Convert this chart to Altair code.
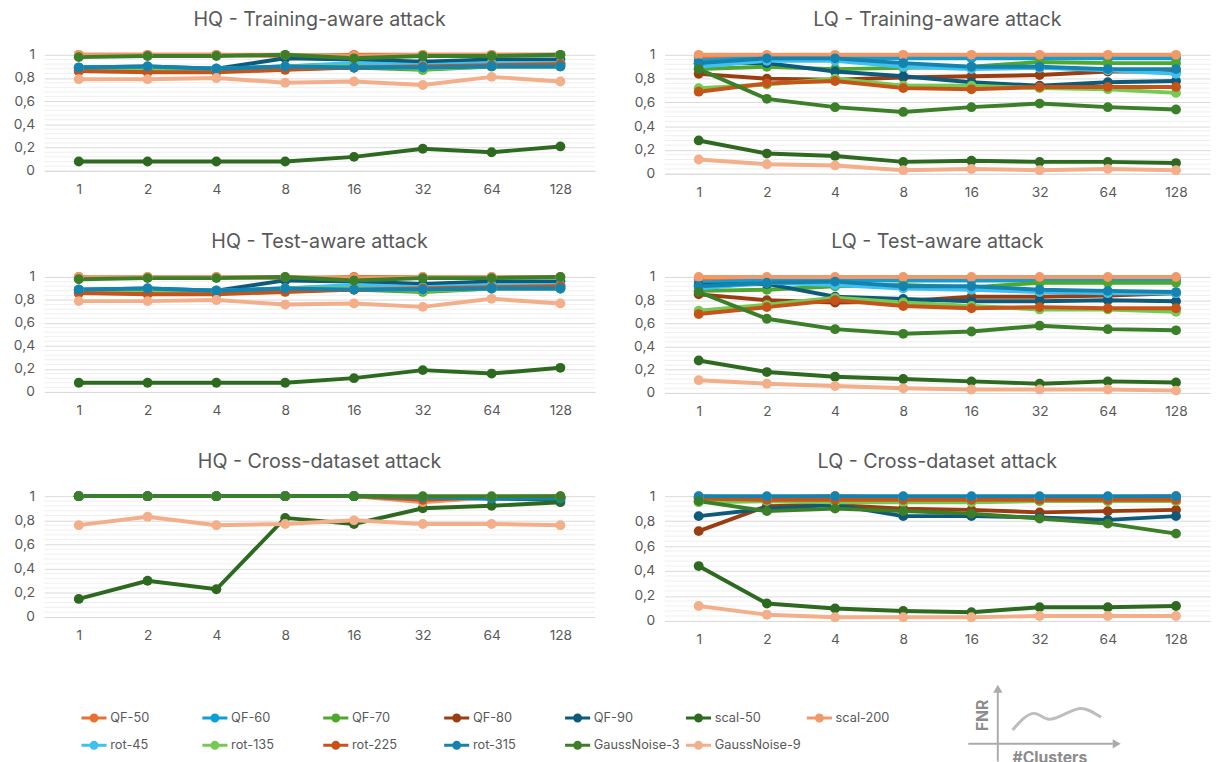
import altair as alt
import pandas as pd

x_labels = ["1", "2", "4", "8", "16", "32", "64", "128"]
series = ["QF-50", "QF-60", "QF-70", "QF-80", "QF-90", "scal-50", "scal-200",
          "rot-45", "rot-135", "rot-225", "rot-315", "GaussNoise-3", "GaussNoise-9"]
colors = ["#E97132", "#0F9ED5", "#4EA72E", "#9A3E12", "#0E5A7B", "#2D6A1F", "#F0996A",
          "#3FC0F0", "#74CA52", "#C65418", "#1483B0", "#3B7F28", "#F3AE8A"]

hq_train = {
    "QF-50": [1.0, 1.0, 1.0, 0.99, 1.0, 1.0, 1.0, 1.0],
    "QF-60": [0.89, 0.89, 0.88, 0.90, 0.92, 0.91, 0.93, 0.93],
    "QF-70": [0.87, 0.87, 0.86, 0.89, 0.89, 0.87, 0.90, 0.90],
    "QF-80": [0.86, 0.86, 0.86, 0.88, 0.89, 0.90, 0.92, 0.92],
    "QF-90": [0.89, 0.90, 0.88, 0.97, 0.96, 0.94, 0.96, 0.96],
    "scal-50": [0.08, 0.08, 0.08, 0.08, 0.12, 0.19, 0.16, 0.21],
    "scal-200": [1.0, 1.0, 1.0, 1.0, 0.99, 1.0, 1.0, 1.0],
    "rot-45": [0.89, 0.89, 0.88, 0.90, 0.93, 0.91, 0.93, 0.93],
    "rot-135": [0.88, 0.88, 0.87, 0.90, 0.90, 0.88, 0.90, 0.90],
    "rot-225": [0.86, 0.85, 0.85, 0.87, 0.89, 0.90, 0.91, 0.92],
    "rot-315": [0.89, 0.90, 0.88, 0.90, 0.89, 0.89, 0.90, 0.90],
    "GaussNoise-3": [0.98, 0.99, 0.99, 1.0, 0.97, 0.99, 0.99, 1.0],
    "GaussNoise-9": [0.79, 0.79, 0.80, 0.76, 0.77, 0.74, 0.81, 0.77],
}

hq_test = {
    "QF-50": [1.0, 1.0, 1.0, 0.99, 1.0, 1.0, 1.0, 1.0],
    "QF-60": [0.89, 0.89, 0.88, 0.90, 0.92, 0.91, 0.93, 0.93],
    "QF-70": [0.87, 0.87, 0.86, 0.89, 0.89, 0.87, 0.90, 0.90],
    "QF-80": [0.86, 0.86, 0.86, 0.88, 0.89, 0.90, 0.92, 0.92],
    "QF-90": [0.89, 0.90, 0.88, 0.97, 0.96, 0.94, 0.96, 0.96],
    "scal-50": [0.08, 0.08, 0.08, 0.08, 0.12, 0.19, 0.16, 0.21],
    "scal-200": [1.0, 1.0, 1.0, 1.0, 0.99, 1.0, 1.0, 1.0],
    "rot-45": [0.89, 0.89, 0.88, 0.90, 0.93, 0.91, 0.93, 0.93],
    "rot-135": [0.88, 0.88, 0.87, 0.90, 0.90, 0.88, 0.90, 0.90],
    "rot-225": [0.86, 0.85, 0.85, 0.87, 0.89, 0.90, 0.91, 0.92],
    "rot-315": [0.89, 0.90, 0.88, 0.90, 0.89, 0.89, 0.90, 0.90],
    "GaussNoise-3": [0.98, 0.99, 0.99, 1.0, 0.97, 0.99, 0.99, 1.0],
    "GaussNoise-9": [0.79, 0.79, 0.80, 0.76, 0.77, 0.74, 0.81, 0.77],
}

hq_cross = {
    "QF-50": [1.0, 1.0, 1.0, 1.0, 1.0, 0.96, 0.99, 1.0],
    "QF-60": [1.0, 1.0, 1.0, 1.0, 1.0, 0.99, 0.99, 0.99],
    "QF-70": [1.0, 1.0, 1.0, 1.0, 1.0, 0.99, 0.99, 0.99],
    "QF-80": [1.0, 1.0, 1.0, 1.0, 1.0, 0.98, 0.99, 0.99],
    "QF-90": [1.0, 1.0, 1.0, 1.0, 1.0, 0.99, 0.98, 0.97],
    "scal-50": [0.15, 0.30, 0.23, 0.82, 0.77, 0.90, 0.92, 0.95],
    "scal-200": [1.0, 1.0, 1.0, 1.0, 1.0, 0.95, 0.99, 0.99],
    "rot-45": [1.0, 1.0, 1.0, 1.0, 1.0, 0.99, 0.99, 0.99],
    "rot-135": [1.0, 1.0, 1.0, 1.0, 1.0, 0.99, 0.99, 0.99],
    "rot-225": [1.0, 1.0, 1.0, 1.0, 1.0, 0.97, 0.99, 0.99],
    "rot-315": [1.0, 1.0, 1.0, 1.0, 1.0, 0.99, 0.98, 0.98],
    "GaussNoise-3": [1.0, 1.0, 1.0, 1.0, 1.0, 1.0, 1.0, 1.0],
    "GaussNoise-9": [0.76, 0.83, 0.76, 0.77, 0.80, 0.77, 0.77, 0.76],
}

lq_train = {
    "QF-50": [0.98, 0.98, 0.98, 0.98, 0.98, 0.98, 0.98, 0.98],
    "QF-60": [0.95, 0.98, 0.97, 0.97, 0.97, 0.97, 0.97, 0.97],
    "QF-70": [0.88, 0.90, 0.88, 0.89, 0.90, 0.94, 0.93, 0.93],
    "QF-80": [0.84, 0.80, 0.79, 0.81, 0.82, 0.83, 0.86, 0.86],
    "QF-90": [0.93, 0.93, 0.86, 0.82, 0.77, 0.74, 0.77, 0.78],
    "scal-50": [0.28, 0.17, 0.15, 0.10, 0.11, 0.10, 0.10, 0.09],
    "scal-200": [1.0, 1.0, 1.0, 1.0, 1.0, 1.0, 1.0, 1.0],
    "rot-45": [0.90, 0.95, 0.95, 0.90, 0.88, 0.89, 0.87, 0.84],
    "rot-135": [0.72, 0.75, 0.80, 0.74, 0.74, 0.72, 0.71, 0.68],
    "rot-225": [0.69, 0.76, 0.78, 0.72, 0.71, 0.73, 0.73, 0.73],
    "rot-315": [0.93, 0.97, 0.97, 0.93, 0.90, 0.90, 0.88, 0.88],
    "GaussNoise-3": [0.88, 0.63, 0.56, 0.52, 0.56, 0.59, 0.56, 0.54],
    "GaussNoise-9": [0.12, 0.08, 0.07, 0.03, 0.04, 0.03, 0.04, 0.03],
}

lq_test = {
    "QF-50": [0.98, 0.98, 0.98, 0.98, 0.98, 0.98, 0.98, 0.98],
    "QF-60": [0.95, 0.97, 0.97, 0.97, 0.97, 0.97, 0.97, 0.97],
    "QF-70": [0.88, 0.89, 0.92, 0.93, 0.91, 0.95, 0.95, 0.95],
    "QF-80": [0.85, 0.80, 0.78, 0.79, 0.83, 0.83, 0.84, 0.86],
    "QF-90": [0.93, 0.94, 0.83, 0.81, 0.79, 0.79, 0.80, 0.79],
    "scal-50": [0.28, 0.18, 0.14, 0.12, 0.10, 0.08, 0.10, 0.09],
    "scal-200": [1.0, 1.0, 1.0, 1.0, 1.0, 1.0, 1.0, 1.0],
    "rot-45": [0.90, 0.95, 0.93, 0.90, 0.89, 0.87, 0.86, 0.86],
    "rot-135": [0.71, 0.76, 0.82, 0.78, 0.75, 0.72, 0.72, 0.70],
    "rot-225": [0.68, 0.74, 0.80, 0.75, 0.73, 0.74, 0.73, 0.73],
    "rot-315": [0.92, 0.95, 0.96, 0.92, 0.92, 0.89, 0.88, 0.87],
    "GaussNoise-3": [0.87, 0.64, 0.55, 0.51, 0.53, 0.58, 0.55, 0.54],
    "GaussNoise-9": [0.11, 0.08, 0.06, 0.04, 0.03, 0.03, 0.03, 0.02],
}

lq_cross = {
    "QF-50": [0.99, 0.99, 1.0, 0.99, 0.99, 0.99, 0.99, 1.0],
    "QF-60": [0.99, 0.99, 0.99, 0.99, 0.99, 0.99, 0.99, 0.99],
    "QF-70": [0.96, 0.96, 0.95, 0.96, 0.96, 0.96, 0.96, 0.96],
    "QF-80": [0.72, 0.92, 0.93, 0.90, 0.89, 0.87, 0.88, 0.89],
    "QF-90": [0.84, 0.90, 0.93, 0.84, 0.84, 0.83, 0.81, 0.84],
    "scal-50": [0.44, 0.14, 0.10, 0.08, 0.07, 0.11, 0.11, 0.12],
    "scal-200": [1.0, 0.98, 1.0, 0.98, 0.98, 0.98, 0.99, 1.0],
    "rot-45": [0.98, 0.98, 0.98, 0.98, 0.98, 0.98, 0.98, 0.98],
    "rot-135": [0.95, 0.96, 0.95, 0.95, 0.95, 0.96, 0.96, 0.96],
    "rot-225": [0.98, 0.97, 0.97, 0.97, 0.97, 0.97, 0.97, 0.97],
    "rot-315": [1.0, 1.0, 1.0, 1.0, 1.0, 1.0, 1.0, 1.0],
    "GaussNoise-3": [0.96, 0.88, 0.90, 0.88, 0.86, 0.82, 0.78, 0.70],
    "GaussNoise-9": [0.12, 0.05, 0.03, 0.03, 0.03, 0.04, 0.04, 0.04],
}

major_ticks = [0, 0.2, 0.4, 0.6, 0.8, 1.0]
minor_grid = [0.04, 0.08, 0.12, 0.16, 0.24, 0.28, 0.32, 0.36, 0.44, 0.48, 0.52, 0.56,
              0.64, 0.68, 0.72, 0.76, 0.84, 0.88, 0.92, 0.96]

# Icon (FNR vs #Clusters sketch), in icon units
icon_curve_x = [50, 72, 87, 120, 140]
icon_curve_y = [26, 43, 37, 48, 39]

FONT = "Inter"
GREY = "#595959"
legend_path = ("M-1,0H1M-0.24,0a0.24,0.24 0 1,0 0.48,0"
               "a0.24,0.24 0 1,0 -0.48,0")
NOVIEW = alt.ViewBackground(stroke="transparent", strokeWidth=0)


def y_axis():
    return alt.Axis(values=major_ticks, domain=False, ticks=False,
                    gridColor="#D9D9D9", labelColor=GREY, labelFontSize=14,
                    labelFont=FONT, labelPadding=10,
                    labelExpr="replace(format(datum.value, '~g'), '.', ',')")


def panel(title, values, width, height):
    rows = []
    for si, s in enumerate(series):
        for xi, xl in enumerate(x_labels):
            rows.append({"series": s, "clusters": xl, "fnr": values[s][xi], "k": si})
    df = pd.DataFrame(rows)
    yscale = alt.Scale(domain=[0, 1], nice=False)
    grid = alt.Chart(pd.DataFrame({"v": minor_grid})).mark_rule(
        color="#EFEFEF", strokeWidth=1
    ).encode(y=alt.Y("v:Q", scale=yscale, axis=y_axis(), title=None))
    lines = alt.Chart(df).mark_line(
        strokeWidth=4,
        point=alt.OverlayMarkDef(filled=True, size=100, opacity=1),
    ).encode(
        x=alt.X("clusters:N", sort=x_labels, title=None,
                axis=alt.Axis(labelAngle=0, ticks=False, domainColor="#D9D9D9",
                              labelColor=GREY, labelFontSize=14, labelFont=FONT,
                              labelPadding=12, grid=False)),
        y=alt.Y("fnr:Q", scale=yscale, title=None, axis=y_axis()),
        color=alt.Color("series:N", sort=series,
                        scale=alt.Scale(domain=series, range=colors),
                        legend=alt.Legend(title=None, orient="none", legendX=36, legendY=660,
                                          direction="horizontal", columns=7,
                                          gridAlign="all", columnPadding=-1, rowPadding=4,
                                          symbolType=legend_path, symbolSize=650,
                                          symbolStrokeWidth=3, labelFontSize=13,
                                          labelFont=FONT, labelColor=GREY, labelOffset=2)),
        order=alt.Order("k:Q"),
    )
    return alt.layer(grid, lines).properties(
        width=width, height=height, view=NOVIEW,
        title=alt.TitleParams(title, fontSize=20, font=FONT, color=GREY,
                              fontWeight="normal", anchor="middle", offset=17),
    )


row1 = alt.hconcat(panel("HQ - Training-aware attack", hq_train, 560, 118),
                   panel("LQ - Training-aware attack", lq_train, 555, 121), spacing=38)
row2 = alt.hconcat(panel("HQ - Test-aware attack", hq_test, 560, 117),
                   panel("LQ - Test-aware attack", lq_test, 555, 118), spacing=38)
row3 = alt.hconcat(panel("HQ - Cross-dataset attack", hq_cross, 560, 123),
                   panel("LQ - Cross-dataset attack", lq_cross, 555, 127), spacing=38)

# icon
ix = alt.Scale(domain=[0, 165], nice=False)
iy = alt.Scale(domain=[0, 72], nice=False)
ICON = "#ABABAB"
axes_df = pd.DataFrame({"x": [35, 5], "x2": [35, 152], "y": [-6, 12], "y2": [66, 12]})
heads_df = pd.DataFrame({"x": [35, 156], "y": [68, 12], "shape": ["triangle-up", "triangle-right"]})
curve_df = pd.DataFrame({"x": icon_curve_x, "y": icon_curve_y})
fnr_df = pd.DataFrame({"x": [20], "y": [41], "t": ["FNR"]})
clu_df = pd.DataFrame({"x": [88], "y": [6], "t": ["#Clusters"]})

icon = alt.layer(
    alt.Chart(axes_df).mark_rule(color=ICON, strokeWidth=2).encode(
        x=alt.X("x:Q", scale=ix, axis=None), x2="x2", y=alt.Y("y:Q", scale=iy, axis=None), y2="y2"),
    alt.Chart(heads_df).mark_point(filled=True, color=ICON, size=90, opacity=1).encode(
        x=alt.X("x:Q", scale=ix, axis=None), y=alt.Y("y:Q", scale=iy, axis=None),
        shape=alt.Shape("shape:N", scale=None)),
    alt.Chart(curve_df).mark_line(color="#BDBDBD", strokeWidth=3, interpolate="monotone").encode(
        x=alt.X("x:Q", scale=ix, axis=None), y=alt.Y("y:Q", scale=iy, axis=None)),
    alt.Chart(fnr_df).mark_text(angle=270, fontSize=16, fontWeight="bold", color="#8C8C8C",
                                font=FONT).encode(
        x=alt.X("x:Q", scale=ix, axis=None), y=alt.Y("y:Q", scale=iy, axis=None), text="t:N"),
    alt.Chart(clu_df).mark_text(fontSize=16, fontWeight="bold", color="#8C8C8C", font=FONT,
                                baseline="top").encode(
        x=alt.X("x:Q", scale=ix, axis=None), y=alt.Y("y:Q", scale=iy, axis=None), text="t:N"),
).properties(width=165, height=72, view=NOVIEW)

spacer = alt.Chart(pd.DataFrame({"a": [0]})).mark_point(opacity=0).encode(
    x=alt.X("a:Q", axis=None), y=alt.Y("a:Q", axis=None)).properties(
    width=935, height=72, view=NOVIEW)

row4 = alt.hconcat(spacer, icon, spacing=0)

chart = alt.vconcat(alt.vconcat(row1, row2, row3, spacing=34), row4, spacing=38).configure_view(
    stroke="transparent", strokeWidth=0
).properties(
    padding={"left": 5, "top": -4, "right": 5, "bottom": 0}
).configure(background="white")

chart.save("out.html", embed_options={"renderer": "svg", "actions": False})
